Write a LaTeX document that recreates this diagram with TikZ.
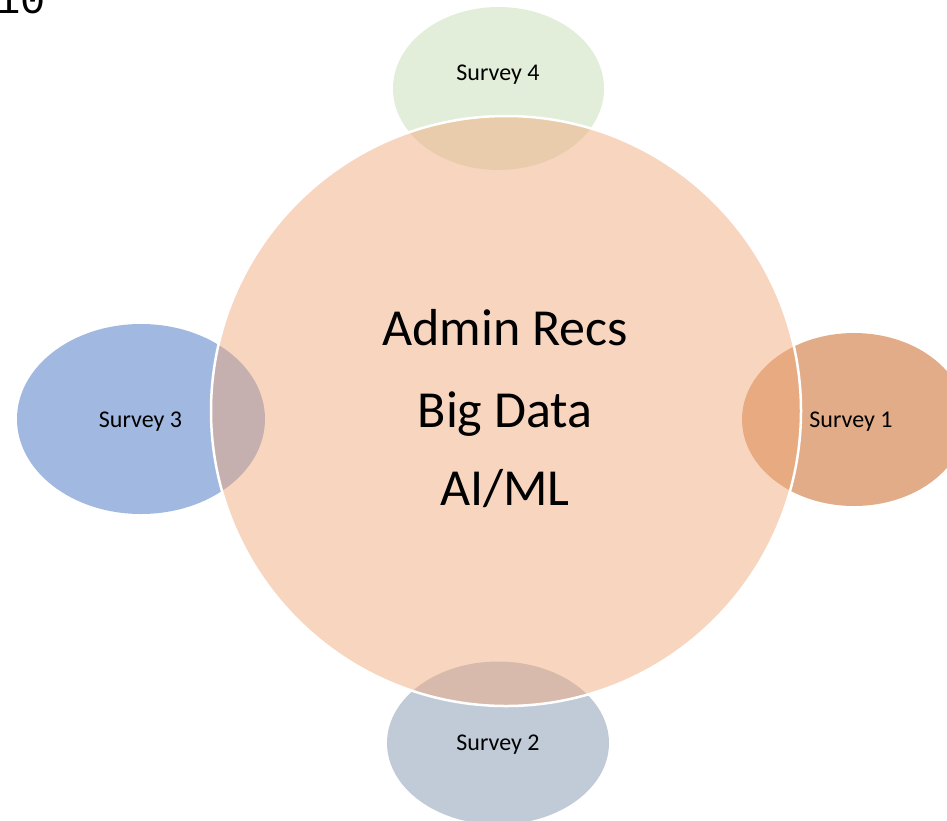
\documentclass[tikz,border=0pt]{standalone}
\usepackage{fontspec}
\setmainfont{Carlito}
\newfontfamily\pagenumfont{Liberation Mono}
\usetikzlibrary{shapes.geometric}

\definecolor{hubfill}{RGB}{240,168,122}
\definecolor{surveyone}{RGB}{226,172,136}
\definecolor{surveytwo}{RGB}{193,203,216}
\definecolor{surveythree}{RGB}{161,184,224}
\definecolor{surveyfour}{RGB}{226,238,217}

\tikzset{
  satellite/.style={ellipse, inner sep=0pt, draw=none},
  hub/.style={circle, inner sep=0pt, minimum size=590pt, fill=hubfill,
    fill opacity=0.48, draw=white, line width=2.5pt},
  satlabel/.style={anchor=base, inner sep=0pt,
    font=\fontsize{24}{29}\selectfont},
  hublabel/.style={anchor=base, inner sep=0pt,
    font=\fontsize{52}{62}\selectfont}
}

\begin{document}
\begin{tikzpicture}[x=1pt, y=-1pt]
  \useasboundingbox (0,0) rectangle (947,820);

  % page number, partly cut off at the top edge
  \node[anchor=base west, inner sep=0pt, font=\pagenumfont\fontsize{42}{46}\selectfont]
    (pagenum) at (-5,13.5) {10};

  % satellite ellipses
  \node[satellite, fill=surveyfour, minimum width=211pt, minimum height=163pt]
    (s4) at (498.5,88.5) {};
  \node[satellite, fill=surveythree, minimum width=248pt, minimum height=190pt]
    (s3) at (141,419) {};
  \node[satellite, fill=surveyone, minimum width=224pt, minimum height=173pt]
    (s1) at (854,419.5) {};
  \node[satellite, fill=surveytwo, minimum width=222pt, minimum height=163pt]
    (s2) at (498,743) {};

  % central translucent circle
  \node[hub] (hub) at (506,411) {};

  % satellite labels
  \node[satlabel] (t4) at (498,80) {Survey 4};
  \node[satlabel] (t3) at (140.5,427) {Survey 3};
  \node[satlabel] (t1) at (851,427) {Survey 1};
  \node[satlabel] (t2) at (498,750) {Survey 2};

  % central labels
  \node[hublabel] (h1) at (505,345) {Admin Recs};
  \node[hublabel] (h2) at (505,427) {Big Data};
  \node[hublabel] (h3) at (505,505) {AI/ML};
\end{tikzpicture}
\end{document}
